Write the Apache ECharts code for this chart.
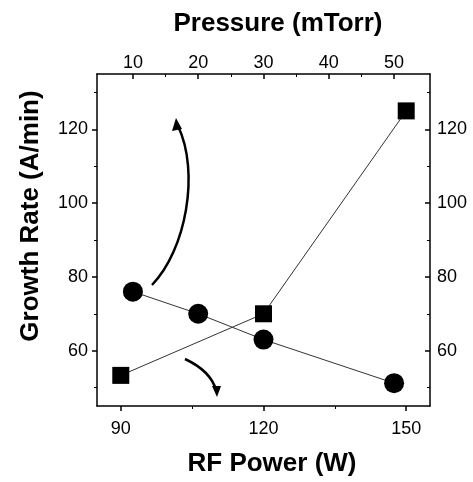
<!DOCTYPE html>
<html>
<head>
<meta charset="utf-8">
<script src="https://cdn.jsdelivr.net/npm/echarts@6/dist/echarts.min.js"></script>
<style>
  html, body { margin: 0; padding: 0; background: #fff; }
  #content { width: 473px; height: 482px; }
</style>
</head>
<body>
<div id="content"></div>
<script>
// RF power series (bottom axis) - squares
var powerX = [90, 120, 150];
var powerY = [53.3, 70, 125];
// pressure series (top axis) - circles
var pressureX = [10, 20, 30, 50];
var pressureY = [76, 70, 63, 51.2];

// tick labels
var powerTicks = [90, 120, 150];
var powerMinor = [105, 135];
var pressureTicks = [10, 20, 30, 40, 50];
var pressureMinor = [15, 25, 35, 45];
var rateTicks = [60, 80, 100, 120];
var rateMinor = [50, 70, 90, 110, 130];

var myChart = echarts.init(document.getElementById('content'));

var font = 'Liberation Sans, Arial, sans-serif';
var lineStyle = {color: '#000', width: 1.5};
var labelStyle = {color: '#000', fontSize: 18, fontFamily: font};
var nameStyle = {color: '#000', fontSize: 26, fontWeight: 'bold', fontFamily: font};

function pairs(xs, ys) {
    return xs.map(function (x, i) { return [x, ys[i]]; });
}

// extra axes only to carry short minor ticks
function minorAxis(base, values, inside) {
    return Object.assign({}, base, {
        name: '',
        axisLine: {show: false},
        axisLabel: {show: false},
        splitLine: {show: false},
        axisTick: {show: true, inside: inside, length: 3, customValues: values, lineStyle: {color: '#000', width: 1}}
    });
}

var bottomAxis = {
    type: 'value', position: 'bottom', min: 85, max: 155,
    name: 'RF Power (W)', nameLocation: 'middle', nameGap: 45,
    nameTextStyle: Object.assign({padding: [0, 0, 0, 17]}, nameStyle),
    axisLine: {show: true, onZero: false, lineStyle: lineStyle},
    axisTick: {show: true, inside: false, length: 5, customValues: powerTicks, lineStyle: lineStyle},
    axisLabel: Object.assign({margin: 14, customValues: powerTicks}, labelStyle),
    splitLine: {show: false}
};
var topAxis = {
    type: 'value', position: 'top', min: 4.5, max: 55.5,
    name: 'Pressure (mTorr)', nameLocation: 'middle', nameGap: 37,
    nameTextStyle: Object.assign({padding: [0, 0, 0, 29]}, nameStyle),
    axisLine: {show: true, onZero: false, lineStyle: lineStyle},
    axisTick: {show: true, inside: true, length: 5, customValues: pressureTicks, lineStyle: lineStyle},
    axisLabel: Object.assign({margin: 2, customValues: pressureTicks}, labelStyle),
    splitLine: {show: false}
};
var leftAxis = {
    type: 'value', position: 'left', min: 45, max: 135,
    name: 'Growth Rate (A/min)', nameLocation: 'middle', nameGap: 53,
    nameTextStyle: Object.assign({padding: [0, 0, 0, 48]}, nameStyle),
    axisLine: {show: true, onZero: false, lineStyle: lineStyle},
    axisTick: {show: true, inside: false, length: 5, customValues: rateTicks, lineStyle: lineStyle},
    axisLabel: Object.assign({margin: 9, customValues: rateTicks}, labelStyle),
    splitLine: {show: false}
};
var rightAxis = Object.assign({}, leftAxis, {
    position: 'right', name: '',
    axisTick: {show: true, inside: true, length: 5, customValues: rateTicks, lineStyle: lineStyle},
    axisLabel: Object.assign({margin: 7, customValues: rateTicks}, labelStyle)
});

var option = {
    backgroundColor: '#fff',
    animation: false,
    grid: {left: 97, right: 43, top: 74, bottom: 75, containLabel: false},
    xAxis: [
        bottomAxis,
        topAxis,
        minorAxis(bottomAxis, powerMinor, false),
        minorAxis(topAxis, pressureMinor, true)
    ],
    yAxis: [
        leftAxis,
        rightAxis,
        minorAxis(leftAxis, rateMinor, false),
        minorAxis(rightAxis, rateMinor, true)
    ],
    series: [
        {
            type: 'line',
            xAxisIndex: 0, yAxisIndex: 0,
            data: pairs(powerX, powerY),
            symbol: 'rect', symbolSize: 17,
            itemStyle: {color: '#000'},
            lineStyle: {color: '#333', width: 1},
            z: 3
        },
        {
            type: 'line',
            xAxisIndex: 1, yAxisIndex: 0,
            data: pairs(pressureX, pressureY),
            symbol: 'circle', symbolSize: 20,
            itemStyle: {color: '#000'},
            lineStyle: {color: '#333', width: 1},
            z: 3
        }
    ],
    graphic: [
        // arrow from circles up to the pressure axis
        {
            type: 'bezierCurve',
            shape: {x1: 152, y1: 285, cpx1: 186, cpy1: 250, cpx2: 200, cpy2: 172, x2: 178, y2: 126},
            style: {stroke: '#000', lineWidth: 2.5, fill: null}
        },
        {
            type: 'polygon',
            shape: {points: [[176, 118], [172, 131], [182, 129]]},
            style: {fill: '#000'}
        },
        // arrow from squares down to the power axis
        {
            type: 'bezierCurve',
            shape: {x1: 185, y1: 359, cpx1: 200, cpy1: 366, cpx2: 212, cpy2: 376, x2: 216, y2: 390},
            style: {stroke: '#000', lineWidth: 2.5, fill: null}
        },
        {
            type: 'polygon',
            shape: {points: [[217, 397], [212, 386], [221, 386]]},
            style: {fill: '#000'}
        }
    ]
};
myChart.setOption(option);
</script>
</body>
</html>
